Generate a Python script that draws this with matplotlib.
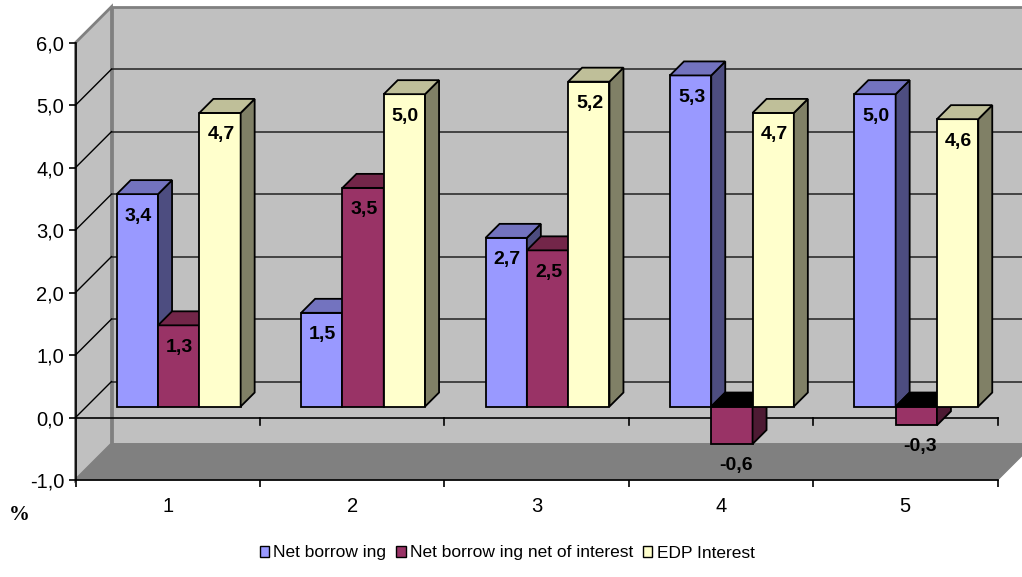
import matplotlib
matplotlib.use("Agg")
import matplotlib.pyplot as plt
from matplotlib.patches import Polygon, Patch

# ---------------- data ----------------
categories = ["1", "2", "3", "4", "5"]
series_names = ["Net borrow ing", "Net borrow ing net of interest", "EDP Interest"]
net_borrowing = [3.4, 1.5, 2.7, 5.3, 5.0]
net_of_interest = [1.3, 3.5, 2.5, -0.6, -0.3]
edp_interest = [4.7, 5.0, 5.2, 4.7, 4.6]
y_ticks = [-1, 0, 1, 2, 3, 4, 5, 6]
y_tick_labels = ["-1,0", "0,0", "1,0", "2,0", "3,0", "4,0", "5,0", "6,0"]
unit_label = "%"

series = [net_borrowing, net_of_interest, edp_interest]
front_colors = ["#9999FF", "#993366", "#FFFFCC"]
side_colors = ["#4D4D80", "#4D1A33", "#808066"]
top_colors = ["#7373BF", "#732649", "#BFBF99"]

plt.rcParams['font.family'] = ['Liberation Sans', 'DejaVu Sans']

W, H = 1022, 577
fig = plt.figure(figsize=(W / 100, H / 100), dpi=100)
fig.patch.set_facecolor("white")

left_px, right_px, top_px, bot_px = 75.5, 997.5, 42.7, 480.0
ax = fig.add_axes([left_px / W, 1 - bot_px / H,
                   (right_px - left_px) / W, (bot_px - top_px) / H])
n = len(categories)
ax.set_xlim(0.5, n + 0.5)
ax.set_ylim(y_ticks[0], y_ticks[-1])
ax.patch.set_visible(False)

PX_X = (right_px - left_px) / n
PX_Y = (bot_px - top_px) / (y_ticks[-1] - y_ticks[0])


def D(px):
    return px / PX_X, px / PX_Y


ymin, ymax = y_ticks[0], y_ticks[-1]
x0, x1 = 0.5, n + 0.5
dx, dy = D(36)

# walls and floor
wall_kw = dict(clip_on=False, joinstyle='miter')
ax.add_patch(Polygon([(x0 + dx, ymin + dy), (x1 + dx, ymin + dy), (x1 + dx, ymax + dy), (x0 + dx, ymax + dy)],
                     closed=True, fc="#C0C0C0", ec="#808080", lw=2, zorder=0.2, **wall_kw))
ax.add_patch(Polygon([(x0, ymin), (x0 + dx, ymin + dy), (x0 + dx, ymax + dy), (x0, ymax)],
                     closed=True, fc="#C0C0C0", ec="#808080", lw=2, zorder=0.3, **wall_kw))
ax.add_patch(Polygon([(x0, ymin), (x1, ymin), (x1 + dx, ymin + dy), (x0 + dx, ymin + dy)],
                     closed=True, fc="#808080", ec="#808080", lw=1, zorder=0.4, **wall_kw))

# gridlines on back wall and side wall
for v in y_ticks[1:-1]:
    ax.plot([x0 + dx, x1 + dx], [v + dy, v + dy], color="#222222", lw=1.1, zorder=0.6, clip_on=False)
    ax.plot([x0, x0 + dx], [v, v + dy], color="#000000", lw=1.0, zorder=0.6, clip_on=False)

# front zero axis with ticks
tick_len = 7 / PX_Y
ax.plot([x0, x1], [0, 0], color="black", lw=1.2, zorder=1.5, clip_on=False)
for k in range(1, n + 1):
    xt = k + 0.5
    ax.plot([xt, xt], [0, -tick_len], color="black", lw=1.2, zorder=1.5, clip_on=False)

# bars
bar_w = 41.3 / PX_X
fdx, fdy = D(11)
bdx, bdy = D(14)
for s, vals in enumerate(series):
    xs = [i + 1 + (s - 1) * bar_w + fdx for i in range(n)]
    z = 2 + s * 0.1
    ax.bar(xs, vals, width=bar_w, bottom=fdy, color=front_colors[s],
           edgecolor="black", lw=1.3, zorder=z)
    for x, v in zip(xs, vals):
        xl, xr = x - bar_w / 2, x + bar_w / 2
        yb, yt = fdy, fdy + v
        ax.add_patch(Polygon([(xr, yb), (xr, yt), (xr + bdx, yt + bdy), (xr + bdx, yb + bdy)],
                             closed=True, fc=side_colors[s], ec="black", lw=1.3, zorder=z + 0.01))
        ty = max(yb, yt)
        ax.add_patch(Polygon([(xl, ty), (xr, ty), (xr + bdx, ty + bdy), (xl + bdx, ty + bdy)],
                             closed=True, fc=top_colors[s] if v >= 0 else "black",
                             ec="black", lw=1.3, zorder=z + 0.02))
        lab = f"{v:.1f}".replace(".", ",")
        if v >= 0:
            ax.text(x + 1 / PX_X, yt - 22 / PX_Y, lab, ha="center", va="center",
                    fontsize=14, fontweight="bold", color="black", zorder=5)
        else:
            ax.text(x + 4 / PX_X, yt - 21 / PX_Y, lab, ha="center", va="center",
                    fontsize=14, fontweight="bold", color="black", zorder=5)

# axes styling
for sp in ["top", "right"]:
    ax.spines[sp].set_visible(False)
for sp in ["left", "bottom"]:
    ax.spines[sp].set_color("black")
    ax.spines[sp].set_linewidth(1.2)
ax.set_yticks(y_ticks)
ax.set_yticklabels(y_tick_labels)
ax.tick_params(axis="y", direction="out", length=5, width=1.2, pad=3.2, labelsize=14.5)
ax.set_xticks(range(1, n + 1))
ax.set_xticklabels(categories)
ax.set_xticks([k + 0.5 for k in range(0, n + 1)], minor=True)
ax.tick_params(axis="x", which="major", length=0, pad=12.5, labelsize=14.5)
ax.tick_params(axis="x", which="minor", direction="out", length=5, width=1.2)

fig.text(19.7 / W, 1 - 515 / H, unit_label, ha="center", va="center",
         fontsize=15, fontweight="bold", family=["Liberation Serif", "DejaVu Serif"])

handles = [Patch(facecolor=front_colors[s], edgecolor="black", lw=1.0) for s in range(3)]
fig.legend(handles, series_names, loc="center", bbox_to_anchor=(507 / W, 1 - 553 / H),
           ncol=3, frameon=False, fontsize=12.5, handlelength=0.55, handleheight=0.55,
           handletextpad=0.25, columnspacing=0.55, borderpad=0)

fig.savefig("out.png", dpi=100, facecolor="white")
